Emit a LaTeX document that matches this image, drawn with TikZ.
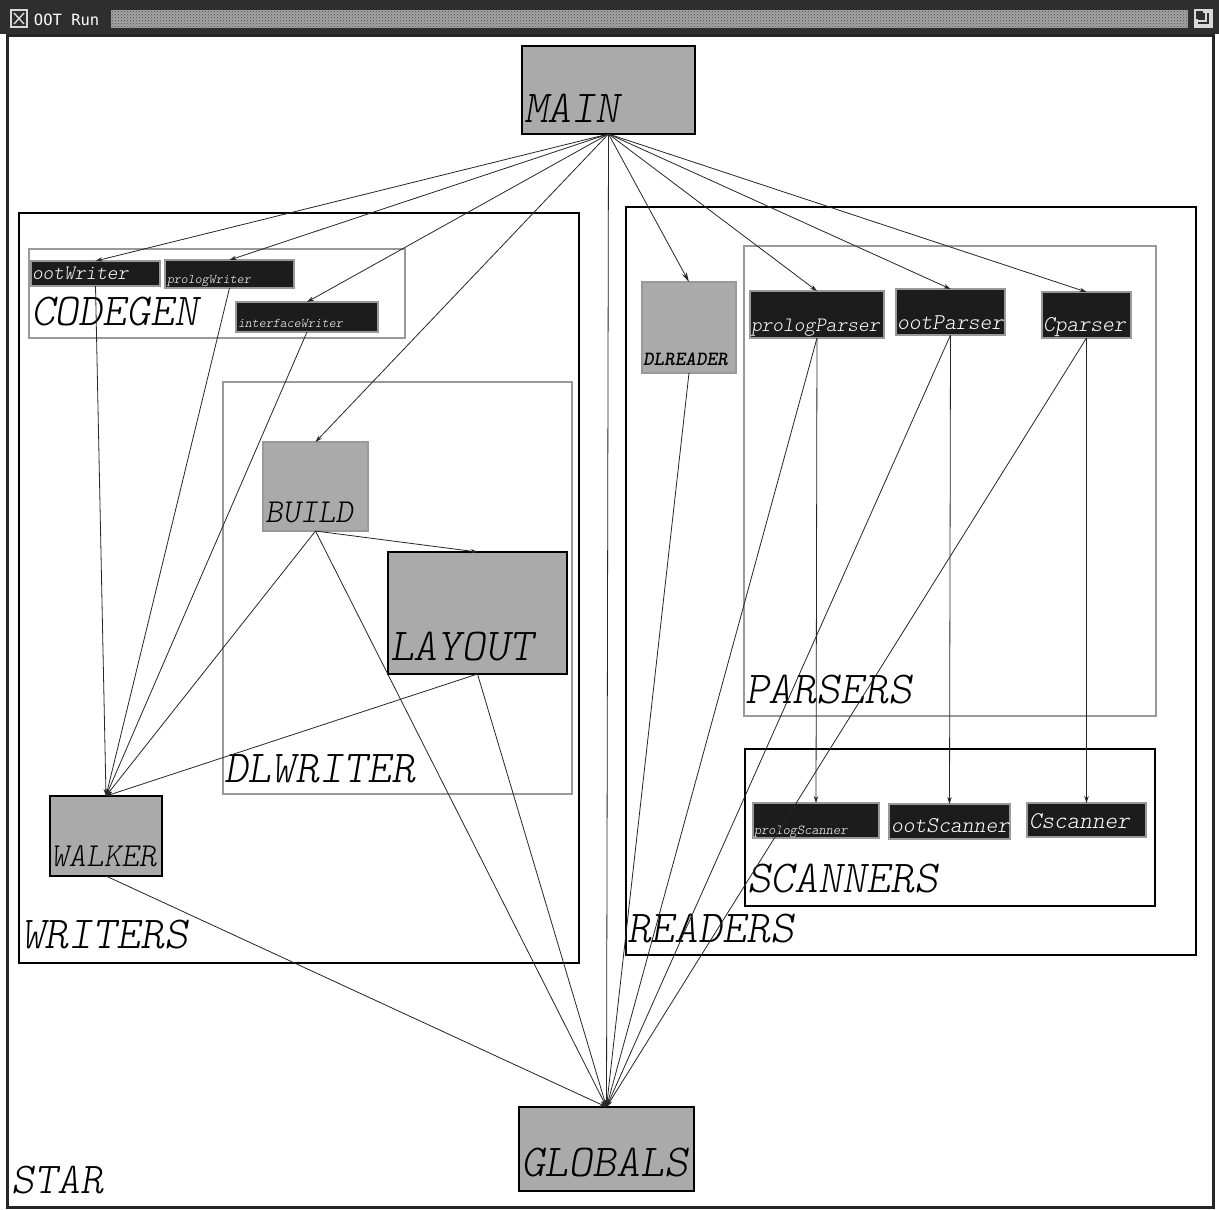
\documentclass[tikz,border=0pt]{standalone}
\usepackage{fontspec}
\usetikzlibrary{arrows.meta,patterns}
\newfontfamily\titlefont{DejaVu Sans Mono}
\newfontfamily\lmono[Extension=.otf]{lmmonolt10-oblique}
\newfontfamily\lmonobold[Extension=.otf]{lmmonolt10-boldoblique}
\definecolor{nodegray}{HTML}{AAAAAA}
\definecolor{darkfill}{HTML}{1C1C1C}
\definecolor{framegray}{HTML}{999999}
\definecolor{barbg}{HTML}{2E2E2E}
\definecolor{checker}{HTML}{A6A6A6}
\newcommand\fz[1]{\fontsize{#1}{#1}\selectfont}
\tikzset{
  every node/.style={inner sep=0pt, outer sep=0pt},
  graybox/.style={rectangle, fill=nodegray, draw=black, line width=2.4pt},
  softbox/.style={rectangle, fill=nodegray, draw=framegray, line width=2.4pt},
  darkbox/.style={rectangle, fill=darkfill, draw=framegray, line width=2.4pt},
  blacklbl/.style={anchor=base west, text=black, font=\lmono},
  whitelbl/.style={anchor=base west, text=white, font=\lmono},
  cluster/.style={draw=black, line width=2.3pt},
  subcluster/.style={draw=framegray, line width=2.4pt},
  edge/.style={draw=black!85, line width=0.8pt, -{Stealth[length=7pt,width=4.5pt]}},
}
\begin{document}
\begin{tikzpicture}[x=1pt, y=-1pt]
\useasboundingbox (0,0) rectangle (1219,1210);
\fill[white] (0,0) rectangle (1219,1210);
% window title bar
\fill[barbg] (0,0) rectangle (1219,34);
\fill[checker] (111,10) rectangle (1188,28);
\fill[pattern=crosshatch dots, pattern color=black!75] (111,10) rectangle (1188,28);
\draw[white!85!black, line width=1.2pt] (11,10) rectangle (27,27);
\draw[white!85!black, line width=1.4pt] (14,13) -- (24,24) (24,13) -- (14,24);
\node[anchor=base west, text=white, font=\titlefont\fz{15.5}] (title) at (34,25) {OOT Run};
\draw[white!85!black, line width=1.2pt] (1195,10) rectangle (1212,27);
\draw[white!85!black, line width=1.2pt] (1203,12) -- (1210,12) -- (1210,25) -- (1197,25) -- (1197,19);
\draw[white!85!black, line width=1.2pt] (1206,12) -- (1206,21) -- (1197,21);
% STAR frame
\draw[black!85, line width=3pt] (7,35) rectangle (1213,1207);

% clusters
\draw[cluster] (19,213) rectangle (579,963);
\draw[subcluster] (29,249) rectangle (405,338);
\draw[subcluster] (223,382) rectangle (572,794);
\draw[cluster] (626,207) rectangle (1196,955);
\draw[subcluster] (744,246) rectangle (1156,716);
\draw[cluster] (745,749) rectangle (1155,906);

\node[blacklbl] (lstar) at (11,1193) {\fz{44}STAR};
\node[blacklbl] (lwriters) at (21,948) {\fz{45.7}WRITERS};
\node[blacklbl] (lcodegen) at (31,325) {\fz{45.7}CODEGEN};
\node[blacklbl] (ldlwriter) at (224,782) {\fz{45.7}DLWRITER};
\node[blacklbl] (lreaders) at (627,942) {\fz{45.7}READERS};
\node[blacklbl] (lparsers) at (745,703) {\fz{45.7}PARSERS};
\node[blacklbl] (lscanners) at (747,892) {\fz{45.7}SCANNERS};

% nodes
\node[graybox, minimum width=173, minimum height=88] (main) at (608.5,90) {};
\node[blacklbl] (lmain) at (524,122) {\fz{45.7}MAIN};
\node[graybox, minimum width=175, minimum height=84] (globals) at (606.5,1149) {};
\node[blacklbl] (lglobals) at (521,1176) {\fz{45.7}GLOBALS};
\node[graybox, minimum width=112, minimum height=80] (walker) at (106,836) {};
\node[blacklbl] (lwalker) at (51,866) {\fz{33.5}WALKER};
\node[softbox, minimum width=105, minimum height=89] (build) at (315.5,486.5) {};
\node[blacklbl] (lbuild) at (265,522) {\fz{33.5}BUILD};
\node[graybox, minimum width=179, minimum height=122] (layout) at (477.5,613) {};
\node[blacklbl] (llayout) at (390,660) {\fz{45.7}LAYOUT};
\node[softbox, minimum width=94, minimum height=91] (dlreader) at (689,327.5) {};
\node[blacklbl, font=\lmonobold] (ldlreader) at (643,365) {\fz{20.2}DLREADER};

\node[darkbox, minimum width=129, minimum height=25] (ootw) at (95.5,273.5) {};
\node[whitelbl] (lootw) at (32,279) {\fz{20.4}ootWriter};
\node[darkbox, minimum width=129, minimum height=28] (prologw) at (229.5,274) {};
\node[whitelbl] (lprologw) at (167,283) {\fz{13.3}prologWriter};
\node[darkbox, minimum width=142, minimum height=30] (interfacew) at (307,317) {};
\node[whitelbl] (linterfacew) at (238,327) {\fz{13.3}interfaceWriter};

\node[darkbox, minimum width=134, minimum height=47] (prologp) at (817,314.5) {};
\node[whitelbl] (lprologp) at (751,331) {\fz{20.4}prologParser};
\node[darkbox, minimum width=109, minimum height=46] (ootp) at (950.5,312) {};
\node[whitelbl] (lootp) at (897,329) {\fz{22.5}ootParser};
\node[darkbox, minimum width=89, minimum height=46] (cp) at (1086.5,315) {};
\node[whitelbl] (lcp) at (1043,331) {\fz{22.5}Cparser};

\node[darkbox, minimum width=126, minimum height=35] (prologs) at (816,820.5) {};
\node[whitelbl] (lprologs) at (754,834) {\fz{13.7}prologScanner};
\node[darkbox, minimum width=121, minimum height=35] (oots) at (949.5,821.5) {};
\node[whitelbl] (loots) at (891,832) {\fz{22.5}ootScanner};
\node[darkbox, minimum width=119, minimum height=34] (cs) at (1086.5,820) {};
\node[whitelbl] (lcs) at (1029,828) {\fz{24}Cscanner};

% edges from MAIN
\draw[edge] (main.south) -- (ootw.north);
\draw[edge] (main.south) -- (prologw.north);
\draw[edge] (main.south) -- (interfacew.north);
\draw[edge] (main.south) -- (build.north);
\draw[edge] (main.south) -- (globals.north);
\draw[edge, -{Stealth[length=10pt,width=5pt]}] (main.south) -- (dlreader.north);
\draw[edge] (main.south) -- (prologp.north);
\draw[edge] (main.south) -- (ootp.north);
\draw[edge] (main.south) -- (cp.north);
% writers
\draw[edge] (ootw.south) -- (walker.north);
\draw[edge] (prologw.south) -- (walker.north);
\draw[edge] (interfacew.south) -- (walker.north);
\draw[edge] (build.south) -- (walker.north);
\draw[edge] (layout.south) -- (walker.north);
\draw[edge] (build.south) -- (layout.north);
\draw[edge] (build.south) -- (globals.north);
\draw[edge] (layout.south) -- (globals.north);
\draw[edge] (walker.south) -- (globals.north);
% readers
\draw[edge] (dlreader.south) -- (globals.north);
\draw[edge] (prologp.south) -- (prologs.north);
\draw[edge] (prologp.south) -- (globals.north);
\draw[edge] (ootp.south) -- (oots.north);
\draw[edge] (ootp.south) -- (globals.north);
\draw[edge] (cp.south) -- (cs.north);
\draw[edge] (cp.south) -- (globals.north);
\end{tikzpicture}
\end{document}
